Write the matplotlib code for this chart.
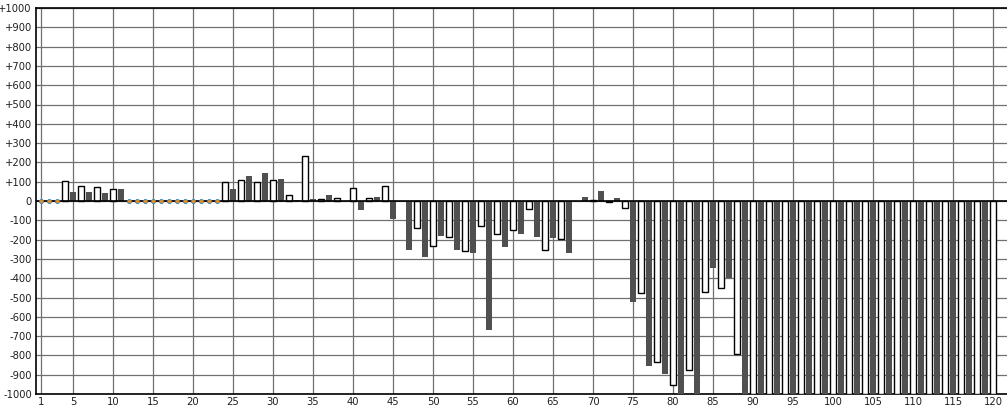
#!/usr/bin/env python3

import matplotlib
matplotlib.use("Agg")
import matplotlib.pyplot as plt

# bar values, position 1..120 (even positions drawn white, odd dark)
values = [
    0, 0, 0, 105, 49, 79, 49, 74, 39, 63,
    60, 0, 0, 0, 0, 0, 0, 0, 0, 0,
    0, 0, 0, 100, 60, 110, 128, 100, 144, 110,
    112, 32, 5, 232, 12, 10, 33, 16, 0, 68,
    -46, 16, 23, 79, -93, 0, -256, -139, -288, -232,
    -182, -186, -256, -258, -267, -128, -667, -170, -240, -149,
    -172, -44, -188, -254, -193, -196, -267, 0, 23, 5,
    54, -6, 18, -37, -525, -479, -857, -834, -896, -953,
    -1000, -874, -1000, -472, -349, -451, -398, -793, -1000, -1000,
    -1000, -1000, -1000, -1000, -1000, -1000, -1000, -1000, -1000, -1000,
    -1000, -1000, -1000, -1000, -1000, -1000, -1000, -1000, -1000, -1000,
    -1000, -1000, -1000, -1000, -1000, -1000, -1000, -1000, -1000, -1000,
]
positions = list(range(1, len(values) + 1))

# positions that show a small marker instead of a bar
zero_markers = [1, 2, 3] + list(range(12, 24))

x_ticks = [1] + list(range(5, 121, 5))
y_ticks = list(range(-1000, 1001, 100))


def y_label(v):
    if v > 0:
        return f"+{v}"
    return str(v)


def main():
    fig = plt.figure(figsize=(10.07, 4.05), dpi=100)
    ax = fig.add_axes([36 / 1007, 11 / 405, 971 / 1007, 386 / 405])

    white_x = [p for p, v in zip(positions, values) if p % 2 == 0 and v != 0]
    white_y = [v for p, v in zip(positions, values) if p % 2 == 0 and v != 0]
    dark_x = [p for p, v in zip(positions, values) if p % 2 == 1 and v != 0]
    dark_y = [v for p, v in zip(positions, values) if p % 2 == 1 and v != 0]

    ax.bar(white_x, white_y, width=0.72, color="white", edgecolor="black", linewidth=1.0, zorder=3)
    ax.bar(dark_x, dark_y, width=0.7, color="#505050", edgecolor="none", zorder=3)

    ax.axhline(0, color="black", linewidth=1.2, zorder=4)
    ax.scatter(zero_markers, [0] * len(zero_markers), s=9, marker="o",
               color="#e0902a", edgecolors="#3a8ac0", linewidths=0.6, zorder=5)

    ax.set_xlim(0.375, 121.75)
    ax.set_ylim(-1000, 1000)
    ax.set_xticks(x_ticks)
    ax.set_xticklabels([str(t) for t in x_ticks])
    ax.set_yticks(y_ticks)
    ax.set_yticklabels([y_label(t) for t in y_ticks])
    ax.tick_params(axis="both", length=0, labelsize=7.2, colors="#202020")
    ax.tick_params(axis="x", pad=2)
    ax.tick_params(axis="y", pad=3)
    ax.grid(color="#707070", linewidth=0.9, zorder=0)
    ax.set_axisbelow(True)

    for side in ["left", "bottom", "top"]:
        ax.spines[side].set_color("black")
        ax.spines[side].set_linewidth(1.2)
    ax.spines["right"].set_visible(False)

    fig.savefig("out.png", dpi=100)
    plt.close(fig)


if __name__ == "__main__":
    main()
